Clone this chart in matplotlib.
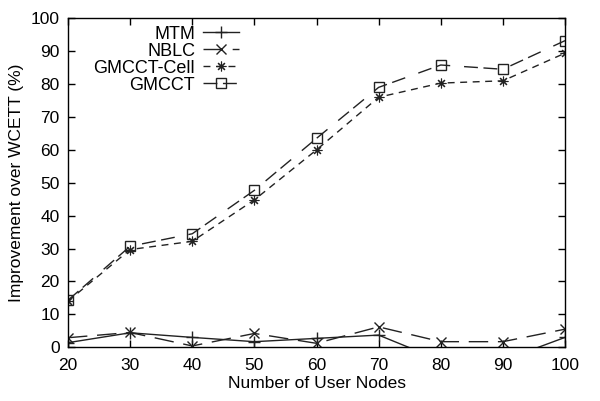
import matplotlib
matplotlib.use("Agg")
import matplotlib.pyplot as plt

nodes = [20, 30, 40, 50, 60, 70, 80, 90, 100]
mtm = [1.4, 4.4, 3.0, 1.7, 2.7, 3.7, -4.0, -4.0, 3.0]
nblc = [2.9, 4.5, 0.4, 4.2, 1.2, 6.2, 1.7, 1.7, 5.5]
gmcct_cell = [14.0, 29.7, 32.2, 44.8, 60.0, 76.0, 80.3, 81.0, 89.4]
gmcct = [14.3, 30.7, 34.5, 47.7, 63.5, 79.0, 85.8, 84.5, 93.2]

plt.rcParams["font.family"] = ["Liberation Sans", "DejaVu Sans"]
plt.rcParams["font.size"] = 12.5

fig = plt.figure(figsize=(6.0, 4.01), dpi=100)
ax = fig.add_axes([0.1133, 0.134, 0.8284, 0.8204])

col = "#222222"
ax.plot(nodes, mtm, color=col, lw=1, marker="+", ms=8, mew=1, label="MTM")
ax.plot(nodes, nblc, color=col, lw=1, marker="x", ms=7.5, mew=1,
        dashes=(14, 7), label="NBLC")
ax.plot(nodes, gmcct_cell, color=col, lw=1, marker=(8, 2, 0), ms=7, mew=0.8,
        dashes=(5, 4), label="GMCCT-Cell")
ax.plot(nodes, gmcct, color=col, lw=1, marker="s", ms=7, mew=1,
        mfc="none", dashes=(10, 4, 10, 10), label="GMCCT")

ax.set_xlim(20, 100)
ax.set_ylim(0, 100)
ax.set_xticks(range(20, 101, 10))
ax.set_yticks(range(0, 101, 10))
ax.tick_params(direction="in", length=5, top=True, right=True, width=1)
ax.tick_params(axis="x", pad=8)
ax.tick_params(axis="y", pad=6)
for s in ax.spines.values():
    s.set_linewidth(1)
ax.set_xlabel("Number of User Nodes", labelpad=2)
ax.set_ylabel("Improvement over WCETT (%)", labelpad=5)

ax.legend(loc="upper left", frameon=False, markerfirst=False,
          handlelength=2.0, handletextpad=0.45, labelspacing=0.0,
          borderaxespad=0.0, bbox_to_anchor=(0.037, 1.0), fontsize=13)

fig.savefig("out.png", dpi=100)
